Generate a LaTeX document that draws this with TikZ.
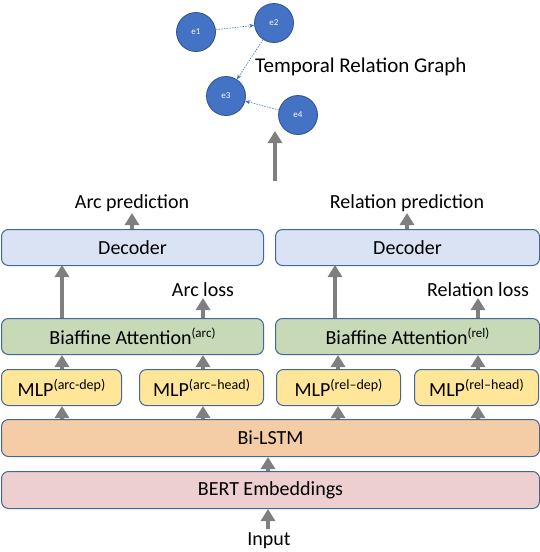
\documentclass[tikz,border=0pt]{standalone}
\usepackage{fontspec}
\setmainfont{Carlito}
\usetikzlibrary{arrows.meta}
\definecolor{bord}{HTML}{41679C}
\definecolor{decf}{HTML}{DAE3F3}
\definecolor{biaf}{HTML}{C7D9B7}
\definecolor{mlpf}{HTML}{FFE699}
\definecolor{lstmf}{HTML}{F4CCA6}
\definecolor{bertf}{HTML}{EDCFCF}
\definecolor{circf}{HTML}{4472C4}
\definecolor{circb}{HTML}{2F528F}
\definecolor{arr}{HTML}{7F7F7F}
\tikzset{
  box/.style={draw=bord, line width=1pt, rounded corners=7pt, inner sep=0pt, anchor=north west, font=\fontsize{20}{24}\selectfont},
  lbl/.style={font=\fontsize{20}{23}\selectfont, inner sep=0pt},
  ev/.style={circle, draw=circb, line width=0.8pt, fill=circf, minimum size=39pt, inner sep=0pt, text=white, font=\fontsize{9}{10}\selectfont},
  bigarr/.style={draw=arr, line width=4pt, -{Triangle[width=14pt,length=12pt]}},
  smallarr/.style={draw=arr, line width=4pt, -{Triangle[width=14pt,length=12pt]}},
  dotarr/.style={draw=circf, line width=0.6pt, dash pattern=on 1.5pt off 1.2pt, -{Stealth[length=5pt,width=4pt]}}
}
\newcommand{\supx}[1]{\raisebox{7pt}{\fontsize{13}{14}\selectfont #1}}
\newcommand{\supm}[1]{\raisebox{7pt}{\fontsize{14}{15}\selectfont #1}}
\begin{document}
\begin{tikzpicture}[x=1pt,y=-1pt]
\useasboundingbox (0,0) rectangle (540,552);
% graph
\node[ev] (e1) at (196,32) {e1};
\node[ev] (e2) at (274,23) {e2};
\node[ev] (e3) at (226,96) {e3};
\node[ev] (e4) at (298,115) {e4};
\draw[dotarr] (e1) -- (e2);
\draw[dotarr] (e2) -- (e3);
\draw[dotarr] (e4) -- (e3);
\node[font=\fontsize{21}{24}\selectfont, inner sep=0pt, anchor=west] (trg) at (255,67) {Temporal Relation Graph};
\coordinate (gtop) at (275,131);
\coordinate (gbot) at (275,181);
\draw[bigarr] (gbot) -- (gtop);
% decoders
\node[box, fill=decf, minimum width=262pt, minimum height=36pt] (decL) at (1,229) {Decoder};
\node[box, fill=decf, minimum width=264pt, minimum height=36pt] (decR) at (275,229) {Decoder};
\node[lbl] (arcp) at (132,203) {Arc prediction};
\node[lbl] (relp) at (407,203) {Relation prediction};
\draw[smallarr] (decL.north -| arcp) -- ++(0,-16);
\draw[smallarr] (decR.north -| relp) -- ++(0,-16);
% biaffine
\node[box, fill=biaf, minimum width=262pt, minimum height=36pt] (biaL) at (1,318) {Biaffine Attention\supx{(arc)}};
\node[box, fill=biaf, minimum width=264pt, minimum height=36pt] (biaR) at (275,318) {Biaffine Attention\supx{(rel)}};
\node[lbl] (arcl) at (203,290) {Arc loss};
\node[lbl] (rell) at (478,290) {Relation loss};
\coordinate (dl) at (62,265);
\coordinate (dr) at (335,265);
\draw[bigarr] (biaL.north -| dl) -- (dl);
\draw[bigarr] (biaR.north -| dr) -- (dr);
\draw[smallarr] (biaL.north -| arcl) -- ++(0,-20);
\draw[smallarr] (biaR.north -| rell) -- ++(0,-20);
% MLPs
\node[box, fill=mlpf, minimum width=120pt, minimum height=36pt] (m1) at (1,369) {MLP\supm{(arc-dep)}};
\node[box, fill=mlpf, minimum width=124pt, minimum height=36pt] (m2) at (139,369) {MLP\supm{(arc--head)}};
\node[box, fill=mlpf, minimum width=124pt, minimum height=36pt] (m3) at (276,369) {MLP\supm{(rel--dep)}};
\node[box, fill=mlpf, minimum width=124pt, minimum height=36pt] (m4) at (414,369) {MLP\supm{(rel--head)}};
\coordinate (c1) at (62,0);
\coordinate (c2) at (203,0);
\coordinate (c3) at (338,0);
\coordinate (c4) at (478,0);
\draw[smallarr] (m1.north -| c1) -- (biaL.south -| c1);
\draw[smallarr] (m2.north -| c2) -- (biaL.south -| c2);
\draw[smallarr] (m3.north -| c3) -- (biaR.south -| c3);
\draw[smallarr] (m4.north -| c4) -- (biaR.south -| c4);
% Bi-LSTM
\node[box, fill=lstmf, minimum width=538pt, minimum height=37pt] (lstm) at (1,419) {Bi-LSTM};
\draw[smallarr] (lstm.north -| c1) -- (m1.south -| c1);
\draw[smallarr] (lstm.north -| c2) -- (m2.south -| c2);
\draw[smallarr] (lstm.north -| c3) -- (m3.south -| c3);
\draw[smallarr] (lstm.north -| c4) -- (m4.south -| c4);
% BERT
\node[box, fill=bertf, minimum width=538pt, minimum height=37pt] (bert) at (1,471) {BERT Embeddings};
\coordinate (cb) at (268,0);
\draw[smallarr] (bert.north -| cb) -- (lstm.south -| cb);
\node[font=\fontsize{20}{24}\selectfont, inner sep=0pt, anchor=base] (inp) at (269,545) {Input};
\draw[bigarr] (inp.north -| cb) ++(0,-3) -- (bert.south -| cb);
\end{tikzpicture}
\end{document}
